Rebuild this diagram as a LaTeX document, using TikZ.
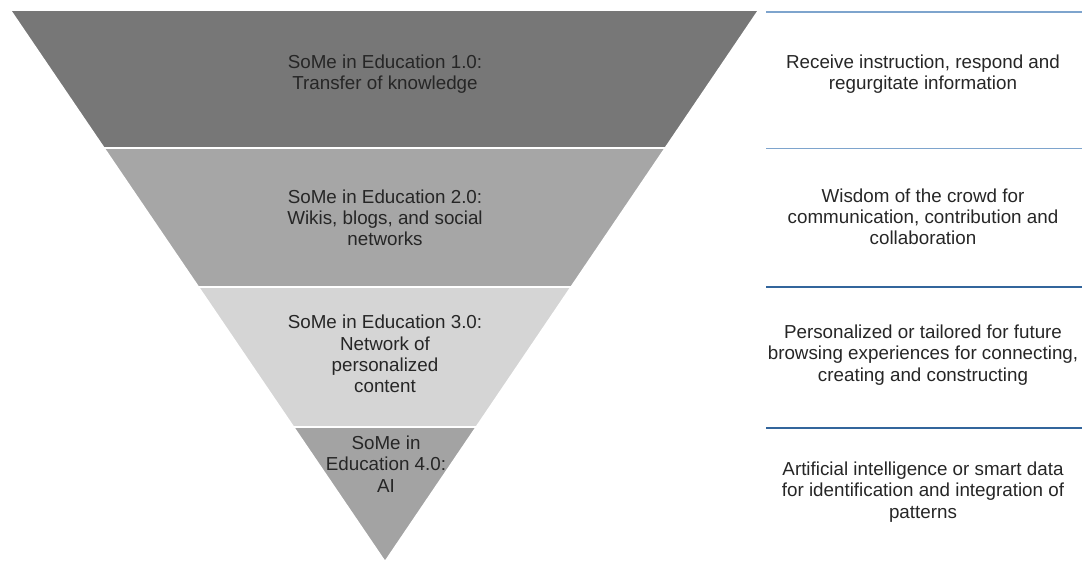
\documentclass[tikz,border=0pt]{standalone}
\usepackage{fontspec}
\setmainfont{Liberation Sans}
\definecolor{bandA}{HTML}{777777}
\definecolor{bandB}{HTML}{A6A6A6}
\definecolor{bandC}{HTML}{D5D5D5}
\definecolor{bandD}{HTML}{A3A3A3}
\definecolor{txt}{HTML}{262626}
\definecolor{lineLight}{HTML}{7EA4CD}
\definecolor{lineDark}{HTML}{32659C}
\begin{document}
\begin{tikzpicture}[x=0.75pt,y=-0.75pt,
  band/.style={draw=white,line width=1.4pt,line join=miter},
  lbl/.style={align=center,text=txt,inner sep=0pt,font=\fontsize{14.1pt}{15.9pt}\selectfont},
  sep/.style={line width=1.2pt}]
\useasboundingbox (0,0) rectangle (1082,563);
% bands
\path[band,fill=bandA] (10,10) -- (759,10) -- (665.5,148) -- (103.75,148) -- cycle;
\path[band,fill=bandB] (103.75,148) -- (665.5,148) -- (571.3,287) -- (198.2,287) -- cycle;
\path[band,fill=bandC] (198.2,287) -- (571.3,287) -- (476.5,427) -- (293.3,427) -- cycle;
\path[band,fill=bandD] (293.3,427) -- (476.5,427) -- (385,562) -- cycle;
% band labels
\node[lbl] (t1) at (385,74) {SoMe in Education 1.0:\\Transfer of knowledge};
\node[lbl] (t2) at (385,218) {SoMe in Education 2.0:\\Wikis, blogs, and social\\networks};
\node[lbl] (t3) at (385,354) {SoMe in Education 3.0:\\Network of\\personalized\\content};
\node[lbl] (t4) at (386,464) {SoMe in\\Education 4.0:\\AI};
% separators
\coordinate (s1a) at (766,12); \coordinate (s1b) at (1082,12);
\coordinate (s2a) at (766,148.7); \coordinate (s2b) at (1082,148.7);
\coordinate (s3a) at (766,287); \coordinate (s3b) at (1082,287);
\coordinate (s4a) at (766,428); \coordinate (s4b) at (1082,428);
\draw[sep,lineLight] (s1a) -- (s1b);
\draw[sep,lineLight] (s2a) -- (s2b);
\draw[sep,lineDark] (s3a) -- (s3b);
\draw[sep,lineDark] (s4a) -- (s4b);
% right labels
\node[lbl] (r1) at (923,74) {Receive instruction, respond and\\regurgitate information};
\node[lbl] (r2) at (923,217) {Wisdom of the crowd for\\communication, contribution and\\collaboration};
\node[lbl] (r3) at (923,355) {Personalized or tailored for future\\browsing experiences for connecting,\\creating and constructing};
\node[lbl] (r4) at (923,492) {Artificial intelligence or smart data\\for identification and integration of\\patterns};
\end{tikzpicture}
\end{document}
